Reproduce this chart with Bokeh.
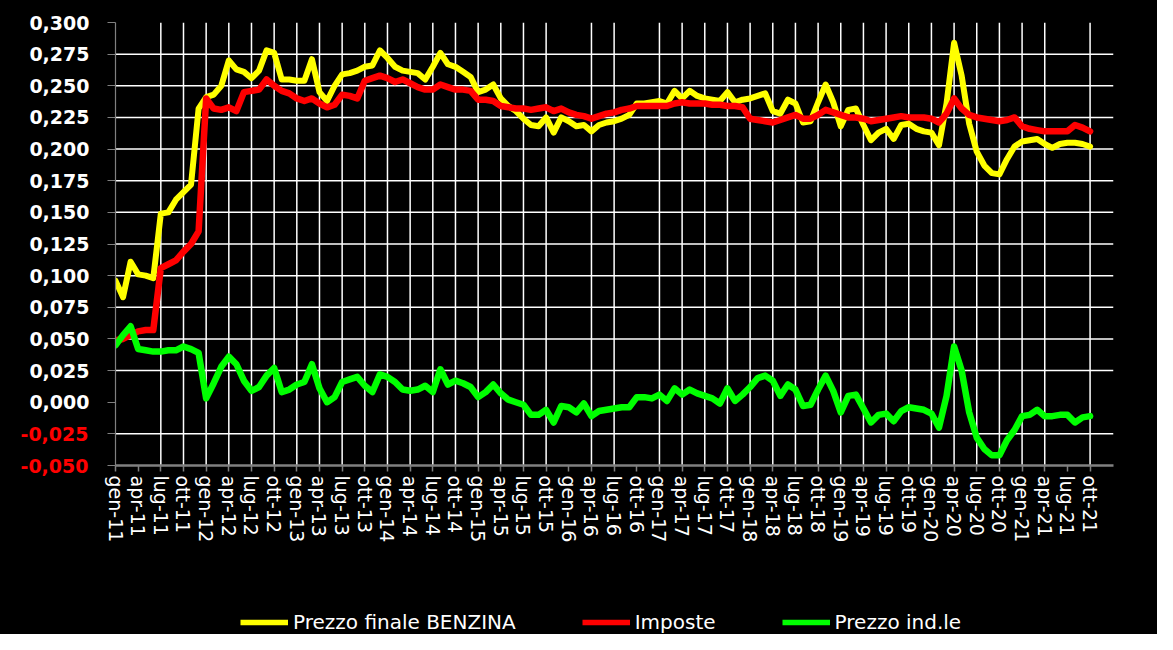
import numpy as np
from bokeh.plotting import figure
from bokeh.layouts import column
from bokeh.models import Range1d, FixedTicker, CustomJSTickFormatter, Legend, LegendItem, LinearAxis
from bokeh.embed import file_html
from bokeh.resources import INLINE

# Monthly values, gen-11 ... ott-21 (euro/litro)
prezzo_finale = [
    0.096, 0.083, 0.111, 0.101, 0.100, 0.098, 0.149, 0.150, 0.160, 0.166, 0.172, 0.232,
    0.241, 0.243, 0.250, 0.270, 0.263, 0.261, 0.256, 0.262, 0.278, 0.276, 0.255, 0.255,
    0.254, 0.254, 0.271, 0.245, 0.238, 0.250, 0.259, 0.260, 0.262, 0.265, 0.266, 0.278,
    0.272, 0.265, 0.262, 0.261, 0.260, 0.255, 0.265, 0.276, 0.267, 0.265, 0.261, 0.257,
    0.245, 0.247, 0.251, 0.240, 0.234, 0.230, 0.224, 0.219, 0.218, 0.225, 0.213, 0.225,
    0.222, 0.218, 0.219, 0.214, 0.219, 0.221, 0.222, 0.224, 0.227, 0.236, 0.236, 0.237,
    0.238, 0.236, 0.246, 0.240, 0.246, 0.242, 0.240, 0.239, 0.238, 0.245, 0.237, 0.239,
    0.240, 0.242, 0.244, 0.230, 0.228, 0.239, 0.236, 0.221, 0.222, 0.237, 0.251, 0.237,
    0.218, 0.231, 0.232, 0.219, 0.207, 0.213, 0.216, 0.208, 0.219, 0.220, 0.216, 0.214,
    0.213, 0.203, 0.236, 0.284, 0.258, 0.220, 0.198, 0.187, 0.181, 0.180, 0.192, 0.202,
    0.206, 0.207, 0.208, 0.204, 0.201, 0.204, 0.205, 0.205, 0.204, 0.202,
]

imposte = [
    0.049, 0.050, 0.053, 0.056, 0.057, 0.057, 0.106, 0.109, 0.112, 0.119, 0.125, 0.135,
    0.240, 0.232, 0.231, 0.233, 0.230, 0.245, 0.246, 0.247, 0.255, 0.250, 0.246, 0.244,
    0.240, 0.238, 0.240, 0.236, 0.233, 0.235, 0.243, 0.242, 0.240, 0.254, 0.256, 0.258,
    0.256, 0.253, 0.255, 0.252, 0.249, 0.247, 0.247, 0.251, 0.249, 0.247, 0.247, 0.246,
    0.239, 0.239, 0.238, 0.234, 0.233, 0.232, 0.232, 0.231, 0.232, 0.233, 0.230, 0.232,
    0.229, 0.227, 0.226, 0.224, 0.226, 0.228, 0.229, 0.231, 0.232, 0.234, 0.234, 0.234,
    0.234, 0.234, 0.236, 0.237, 0.236, 0.236, 0.236, 0.235, 0.235, 0.234, 0.234, 0.233,
    0.224, 0.223, 0.222, 0.221, 0.223, 0.225, 0.227, 0.224, 0.224, 0.227, 0.231, 0.229,
    0.227, 0.225, 0.225, 0.224, 0.222, 0.223, 0.224, 0.225, 0.226, 0.225, 0.225, 0.225,
    0.224, 0.221, 0.228, 0.240, 0.232, 0.227, 0.225, 0.224, 0.223, 0.222, 0.223, 0.225,
    0.218, 0.216, 0.215, 0.214, 0.214, 0.214, 0.214, 0.219, 0.217, 0.214,
]

prezzo_industriale = [
    0.045, 0.053, 0.060, 0.042, 0.041, 0.040, 0.040, 0.041, 0.041, 0.044, 0.042, 0.039,
    0.003, 0.015, 0.028, 0.036, 0.030, 0.017, 0.009, 0.012, 0.021, 0.027, 0.008, 0.010,
    0.014, 0.016, 0.030, 0.011, 0.000, 0.004, 0.016, 0.018, 0.020, 0.013, 0.008, 0.022,
    0.020, 0.016, 0.010, 0.009, 0.010, 0.013, 0.008, 0.026, 0.014, 0.017, 0.015, 0.012,
    0.004, 0.008, 0.014, 0.007, 0.002, 0.000, -0.002, -0.010, -0.010, -0.006, -0.016, -0.003,
    -0.004, -0.008, -0.001, -0.011, -0.007, -0.006, -0.005, -0.004, -0.004, 0.004, 0.004, 0.003,
    0.006, 0.001, 0.011, 0.006, 0.010, 0.007, 0.005, 0.003, -0.001, 0.011, 0.001, 0.006,
    0.012, 0.019, 0.021, 0.017, 0.005, 0.014, 0.010, -0.003, -0.002, 0.010, 0.021, 0.009,
    -0.008, 0.005, 0.006, -0.005, -0.016, -0.010, -0.009, -0.015, -0.007, -0.004, -0.005, -0.006,
    -0.009, -0.020, 0.005, 0.044, 0.025, -0.008, -0.028, -0.037, -0.042, -0.042, -0.030, -0.022,
    -0.011, -0.010, -0.006, -0.011, -0.011, -0.010, -0.010, -0.016, -0.012, -0.011,
]

quarter_labels = [
    "gen-11", "apr-11", "lug-11", "ott-11", "gen-12", "apr-12", "lug-12", "ott-12",
    "gen-13", "apr-13", "lug-13", "ott-13", "gen-14", "apr-14", "lug-14", "ott-14",
    "gen-15", "apr-15", "lug-15", "ott-15", "gen-16", "apr-16", "lug-16", "ott-16",
    "gen-17", "apr-17", "lug-17", "ott-17", "gen-18", "apr-18", "lug-18", "ott-18",
    "gen-19", "apr-19", "lug-19", "ott-19", "gen-20", "apr-20", "lug-20", "ott-20",
    "gen-21", "apr-21", "lug-21", "ott-21",
]
# quarters without a vertical gridline in the original
no_grid_quarters = ["gen-11", "apr-11", "gen-16", "ott-16", "lug-21"]

y_ticks = [-0.050, -0.025, 0.000, 0.025, 0.050, 0.075, 0.100, 0.125, 0.150,
           0.175, 0.200, 0.225, 0.250, 0.275, 0.300]
no_grid_y = [-0.050, 0.000, 0.300]

series_names = ["Prezzo finale BENZINA", "Imposte", "Prezzo ind.le"]
series_colors = ["#FFFF00", "#FF0000", "#00FF00"]
series_values = [prezzo_finale, imposte, prezzo_industriale]

months = np.arange(len(prezzo_finale))
quarter_pos = [3 * i for i in range(len(quarter_labels))]

X0, X1 = 0, 132.1
Y0, Y1 = -0.05, 0.30

p = figure(
    frame_width=998, frame_height=443,
    x_range=Range1d(X0, X1), y_range=Range1d(Y0, Y1),
    output_backend="svg", toolbar_location=None,
    background_fill_color="#000000", border_fill_color="#000000",
    outline_line_color=None,
    min_border_left=115, min_border_right=44, min_border_top=22, min_border_bottom=109,
)
p.xgrid.visible = False
p.ygrid.visible = False

# gridlines: one line glyph per gridline, under the series
for q, lab in zip(quarter_pos, quarter_labels):
    if lab not in no_grid_quarters:
        p.line([q, q], [Y0, Y1], line_color="#FFFFFF", line_width=1.5)
for t in y_ticks:
    if t not in no_grid_y:
        p.line([X0, X1], [t, t], line_color="#FFFFFF", line_width=1.5)

# x axis with vertical quarter labels
xa = p.xaxis[0]
xa.ticker = FixedTicker(ticks=quarter_pos)
xa.major_label_overrides = {q: lab for q, lab in zip(quarter_pos, quarter_labels)}
xa.major_label_orientation = "vertical"
xa.major_label_text_color = "#FFFFFF"
xa.major_label_text_font = "DejaVu Sans"
xa.major_label_text_font_size = "19px"
xa.major_label_standoff = 4
xa.axis_line_color = "#808080"
xa.axis_line_width = 2.5
xa.major_tick_line_color = "#808080"
xa.major_tick_line_width = 1.5
xa.major_tick_out = 6
xa.major_tick_in = 0
xa.minor_tick_line_color = None

# y axis (white labels for non-negative values)
ya = p.yaxis[0]
ya.ticker = FixedTicker(ticks=y_ticks)
ya.formatter = CustomJSTickFormatter(
    code="return tick < -0.001 ? '' : tick.toFixed(3).replace('.', ',');")
ya.major_label_text_color = "#FFFFFF"
ya.major_label_text_font = "DejaVu Sans"
ya.major_label_text_font_style = "bold"
ya.major_label_text_font_size = "19px"
ya.major_label_standoff = 18
ya.axis_line_color = "#808080"
ya.axis_line_width = 1.2
ya.major_tick_line_color = "#808080"
ya.major_tick_line_width = 1.2
ya.major_tick_out = 8
ya.major_tick_in = 0
ya.minor_tick_line_color = None

# second left axis carrying only the red negative labels, shifted onto the same column
ya2 = LinearAxis(
    ticker=FixedTicker(ticks=[t for t in y_ticks if t < 0]),
    formatter=CustomJSTickFormatter(code="return tick.toFixed(3).replace('.', ',');"),
    axis_line_color=None, major_tick_line_color=None, minor_tick_line_color=None,
    major_tick_out=0, major_tick_in=0, major_label_standoff=-62,
    major_label_text_color="#FF0000", major_label_text_font="DejaVu Sans",
    major_label_text_font_style="bold", major_label_text_font_size="19px",
)
p.add_layout(ya2, "left")

for vals, col, lw in zip(series_values, series_colors, [6, 6.5, 6.5]):
    p.line(months, vals, line_color=col, line_width=lw, line_join="round", line_cap="round")

# legend strip: a second black figure below the chart
lg = figure(
    width=1157, height=60, x_range=Range1d(X0, X1), y_range=Range1d(1.0, 2.0),
    output_backend="svg", toolbar_location=None,
    background_fill_color="#000000", border_fill_color="#000000",
    outline_line_color=None, min_border=0,
)
lg.axis.visible = False
lg.grid.visible = False
leg_renderers = []
for vals, col in zip(series_values, series_colors):
    # series lie far outside this strip's y range; only their legend glyphs show
    leg_renderers.append(lg.line(months, vals, line_color=col, line_width=5.5))
legend = Legend(
    items=[LegendItem(label=n, renderers=[r]) for n, r in zip(series_names, leg_renderers)],
    orientation="horizontal", location=(125, 0),
    background_fill_alpha=0, border_line_color=None,
    label_text_color="#FFFFFF", label_text_font="DejaVu Sans", label_text_font_size="20px",
    glyph_width=48, glyph_height=22, label_height=22, label_standoff=5, spacing=66,
    padding=0, margin=0,
)
lg.add_layout(legend)

layout = column(p, lg, spacing=0, styles={"background-color": "#000000"})
open("out.html", "w").write(file_html(layout, INLINE))
